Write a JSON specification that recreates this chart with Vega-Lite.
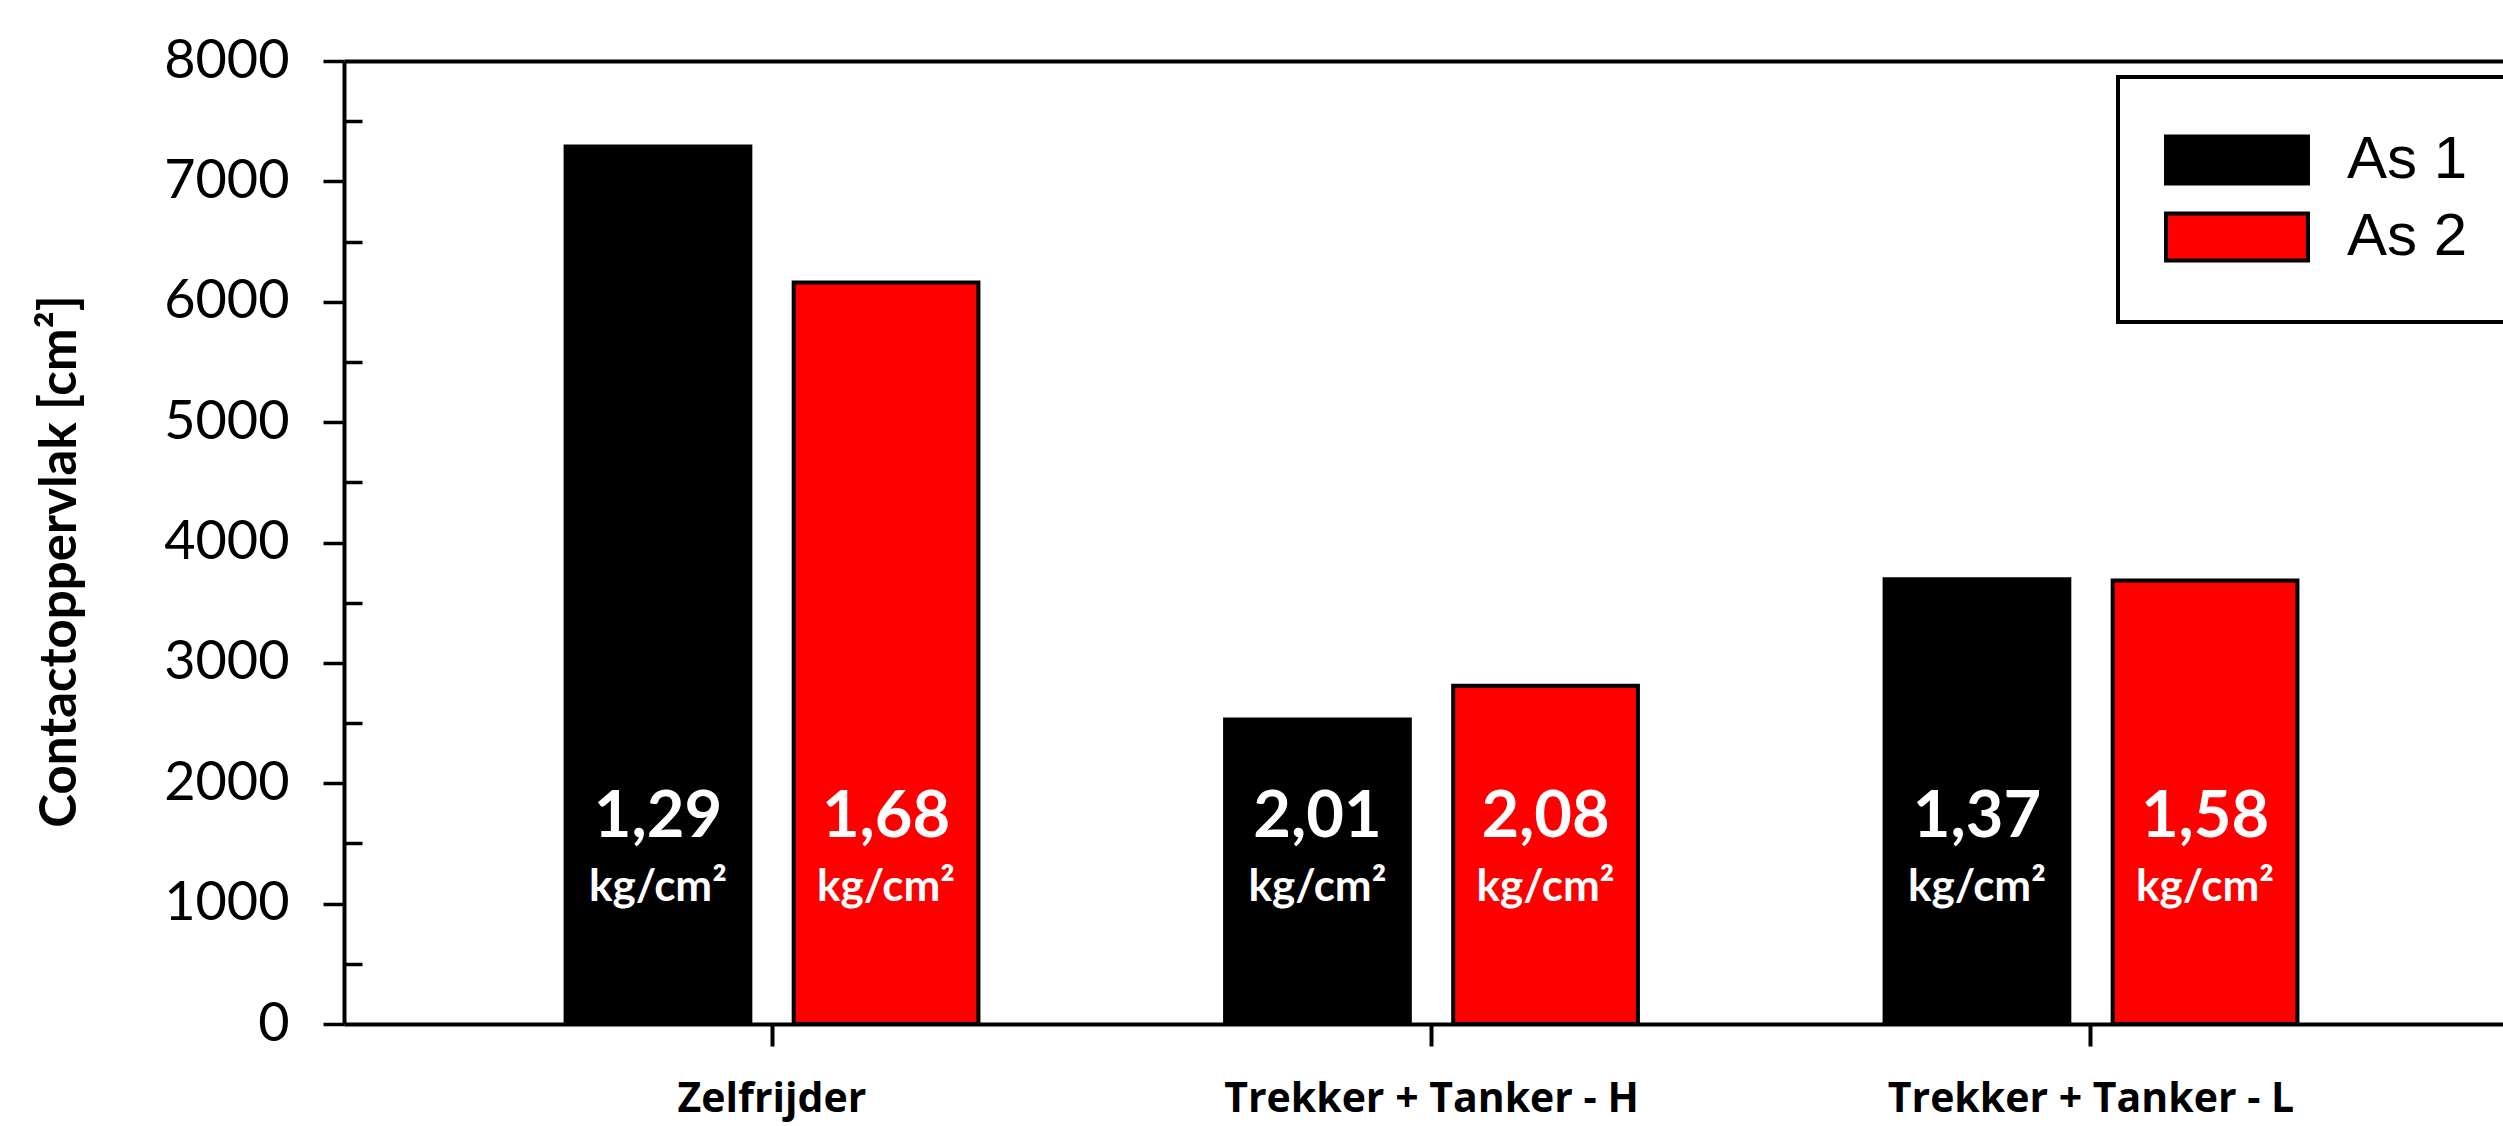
{
  "$schema": "https://vega.github.io/schema/vega-lite/v6.json",
  "autosize": {"type": "none"},
  "padding": {"left": 344, "top": 61, "right": 0, "bottom": 102},
  "width": 2159,
  "height": 963,
  "background": "white",
  "config": {
    "view": {"stroke": null},
    "axis": {"domainColor": "black", "tickColor": "black", "labelColor": "black", "titleColor": "black", "grid": false},
    "legend": {"strokeWidth": 4}
  },
  "data": {
    "values": [
      {"voertuig": "Zelfrijder", "as": "As 1", "oppervlak": 7290, "druk": "1,29"},
      {"voertuig": "Zelfrijder", "as": "As 2", "oppervlak": 6160, "druk": "1,68"},
      {"voertuig": "Trekker + Tanker - H", "as": "As 1", "oppervlak": 2530, "druk": "2,01"},
      {"voertuig": "Trekker + Tanker - H", "as": "As 2", "oppervlak": 2810, "druk": "2,08"},
      {"voertuig": "Trekker + Tanker - L", "as": "As 1", "oppervlak": 3695, "druk": "1,37"},
      {"voertuig": "Trekker + Tanker - L", "as": "As 2", "oppervlak": 3685, "druk": "1,58"}
    ]
  },
  "resolve": {"axis": {"x": "independent", "y": "independent"}},
  "layer": [
    {
      "mark": {"type": "bar", "stroke": "black", "strokeWidth": 4},
      "encoding": {
        "x": {
          "field": "voertuig", "type": "nominal", "sort": null,
          "scale": {"range": [0, 2175], "paddingInner": 0.374, "paddingOuter": 0.336},
          "axis": {
            "orient": "bottom", "title": null, "domainWidth": 4, "tickSize": 22, "tickWidth": 4,
            "labelFont": "Open Sans", "labelFontWeight": "bold", "labelFontSize": 41, "labelLimit": 0,
            "labelBaseline": "alphabetic", "labelPadding": 65, "labelAngle": 0
          }
        },
        "xOffset": {"field": "as", "type": "nominal", "scale": {"paddingInner": 0.19, "paddingOuter": 0}},
        "y": {
          "field": "oppervlak", "type": "quantitative",
          "scale": {"domain": [0, 8000], "nice": false},
          "axis": {
            "orient": "left", "values": [0, 1000, 2000, 3000, 4000, 5000, 6000, 7000, 8000],
            "domainWidth": 4, "tickSize": 21, "tickWidth": 3.5,
            "labelFont": "Lato", "labelFontSize": 54, "labelPadding": 34, "labelBaseline": "middle",
            "format": "d",
            "title": "Contactoppervlak [cm²]", "titleFont": "Lato", "titleFontWeight": "bold", "titleFontSize": 51,
            "titleAngle": -90, "titleX": -269, "titleY": 500, "titleBaseline": "alphabetic", "titleAlign": "center"
          }
        },
        "color": {
          "field": "as", "type": "nominal",
          "scale": {"domain": ["As 1", "As 2"], "range": ["#000000", "#ff0000"]},
          "legend": {
            "orient": "none", "legendX": 1774, "legendY": 16, "title": null,
            "strokeColor": "black", "padding": 53, "rowPadding": 13,
            "symbolType": "M-3.02,-1L3.02,-1L3.02,1L-3.02,1Z", "symbolSize": 2209,
            "symbolStrokeColor": "black", "symbolStrokeWidth": 4, "symbolOffset": 36,
            "labelOffset": 80, "labelFont": "Liberation Sans", "labelFontSize": 60, "labelColor": "black",
            "labelBaseline": "middle"
          }
        }
      }
    },
    {
      "mark": {"type": "text", "color": "white", "font": "Lato", "fontWeight": "bold", "fontSize": 65, "baseline": "alphabetic", "align": "center"},
      "encoding": {
        "x": {
          "field": "voertuig", "type": "nominal", "sort": null,
          "scale": {"range": [0, 2175], "paddingInner": 0.374, "paddingOuter": 0.336},
          "axis": {"orient": "top", "title": null, "domainWidth": 4, "ticks": false, "labels": false}
        },
        "xOffset": {"field": "as", "type": "nominal", "scale": {"paddingInner": 0.19, "paddingOuter": 0}},
        "y": {
          "datum": 1553, "type": "quantitative",
          "scale": {"domain": [0, 8000], "nice": false},
          "axis": {
            "orient": "left", "values": [500, 1500, 2500, 3500, 4500, 5500, 6500, 7500],
            "domain": false, "labels": false, "tickSize": -18, "tickWidth": 3.5, "title": null
          }
        },
        "text": {"field": "druk"}
      }
    },
    {
      "mark": {"type": "text", "color": "white", "font": "Lato", "fontWeight": "bold", "fontSize": 44, "baseline": "alphabetic", "align": "center"},
      "encoding": {
        "x": {"field": "voertuig", "type": "nominal", "sort": null, "axis": null},
        "xOffset": {"field": "as", "type": "nominal"},
        "y": {"datum": 1018, "type": "quantitative", "axis": null},
        "text": {"value": "kg/cm²"}
      }
    }
  ]
}
